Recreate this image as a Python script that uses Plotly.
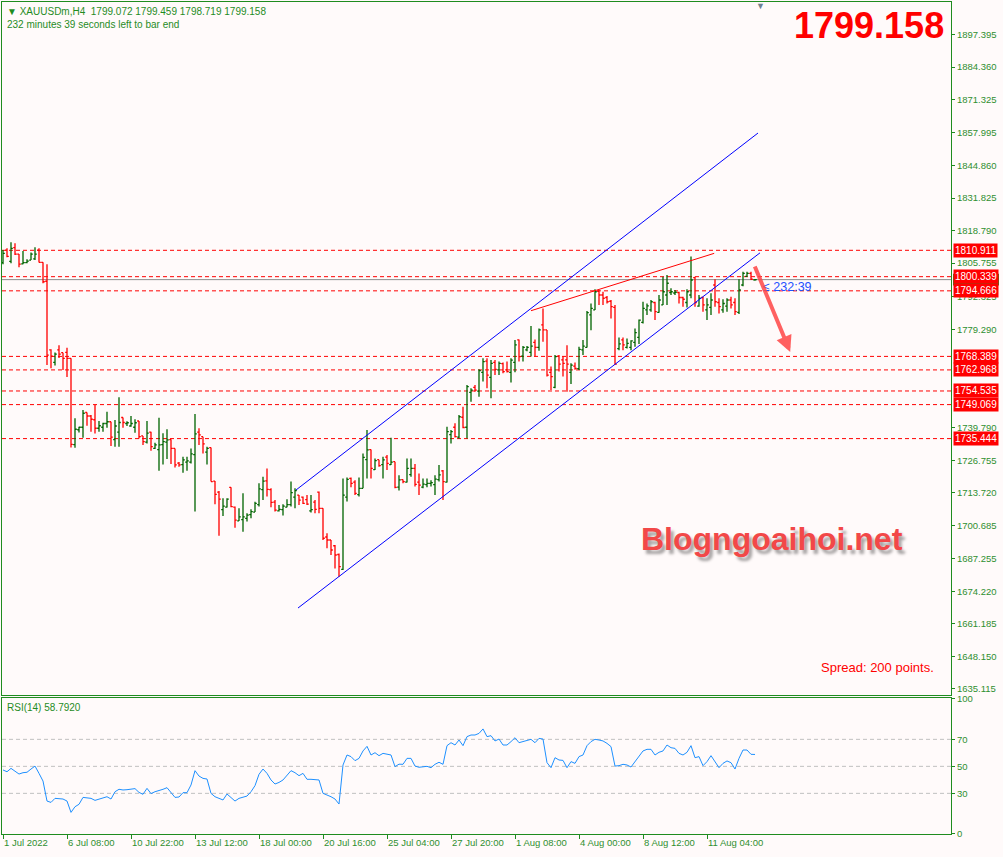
import plotly.graph_objects as go

# ---------------- data ----------------
opens = [1806.0, 1811.0, 1806.5, 1812.0, 1809.4, 1805.5, 1806.0, 1807.0, 1807.5, 1811.0,
         1806.1, 1798.5, 1771.0, 1766.0, 1771.0, 1769.9, 1770.0, 1767.6, 1733.0, 1739.0,
         1740.0, 1745.9, 1744.5, 1743.0, 1739.6, 1740.0, 1741.5, 1742.2, 1735.0, 1738.0,
         1743.9, 1741.5, 1740.5, 1740.0, 1742.5, 1736.5, 1734.0, 1738.0, 1731.5, 1731.0,
         1733.0, 1734.0, 1735.0, 1731.5, 1725.6, 1725.0, 1726.0, 1726.0, 1729.0, 1738.0,
         1736.2, 1730.0, 1731.8, 1718.4, 1714.0, 1707.0, 1708.0, 1715.9, 1708.0, 1702.5,
         1703.0, 1703.5, 1705.0, 1706.0, 1709.0, 1715.0, 1718.5, 1715.0, 1710.0, 1706.5,
         1707.0, 1708.0, 1709.0, 1712.0, 1712.8, 1712.0, 1711.0, 1706.5, 1710.0, 1714.0,
         1707.5, 1696.0, 1694.8, 1692.5, 1689.0, 1683.0, 1712.0, 1719.5, 1718.0, 1713.0,
         1715.5, 1727.0, 1731.0, 1723.0, 1727.0, 1725.0, 1728.0, 1725.0, 1726.2, 1716.0,
         1719.0, 1718.0, 1721.0, 1723.5, 1718.0, 1716.0, 1717.0, 1717.5, 1717.0, 1719.0,
         1722.5, 1718.0, 1737.0, 1740.0, 1736.0, 1744.0, 1740.0, 1754.0, 1756.0, 1754.5,
         1762.0, 1766.5, 1760.0, 1766.0, 1763.0, 1765.5, 1763.0, 1762.0, 1766.0, 1775.0,
         1768.5, 1771.0, 1770.0, 1774.0, 1772.0, 1781.0, 1779.0, 1762.0, 1756.0, 1768.5,
         1767.0, 1767.0, 1762.0, 1764.5, 1763.5, 1771.0, 1772.0, 1785.0, 1787.0, 1794.5,
         1793.0, 1792.0, 1790.5, 1788.0, 1771.5, 1775.0, 1772.0, 1772.0, 1774.0, 1776.0,
         1782.0, 1787.0, 1787.0, 1790.0, 1786.0, 1789.0, 1793.0, 1794.0, 1793.8, 1794.0,
         1792.0, 1790.0, 1793.0, 1800.0, 1788.5, 1792.0, 1787.0, 1788.0, 1797.0, 1790.0,
         1787.0, 1788.5, 1791.0, 1790.0, 1786.0, 1797.0, 1800.5, 1801.7, 1799.072]
highs = [1811.0, 1811.7, 1814.1, 1813.7, 1809.4, 1810.6, 1807.3, 1810.0, 1812.1, 1811.7,
         1806.1, 1805.3, 1771.3, 1770.0, 1772.9, 1769.9, 1771.9, 1767.6, 1743.6, 1740.2,
         1746.9, 1745.9, 1744.9, 1748.9, 1742.5, 1741.8, 1746.2, 1742.2, 1742.9, 1752.0,
         1743.9, 1742.4, 1744.5, 1743.2, 1742.5, 1736.5, 1742.5, 1738.2, 1733.8, 1743.8,
         1737.6, 1739.2, 1735.2, 1731.5, 1726.1, 1728.2, 1728.2, 1731.5, 1745.3, 1739.6,
         1736.2, 1732.2, 1731.9, 1718.4, 1714.4, 1711.5, 1711.5, 1715.9, 1708.2, 1707.5,
         1713.5, 1705.5, 1707.1, 1710.1, 1717.5, 1720.2, 1723.5, 1715.5, 1710.8, 1708.8,
         1709.1, 1711.1, 1718.2, 1715.5, 1712.8, 1712.2, 1712.8, 1712.8, 1710.8, 1714.2,
         1707.5, 1697.5, 1694.8, 1692.8, 1689.4, 1719.5, 1719.9, 1719.9, 1718.8, 1719.9,
         1729.5, 1738.9, 1731.1, 1727.5, 1727.0, 1728.2, 1728.9, 1735.8, 1726.2, 1720.8,
         1719.1, 1727.5, 1727.5, 1725.3, 1721.5, 1719.5, 1719.5, 1718.8, 1720.8, 1724.9,
         1722.9, 1740.2, 1738.9, 1741.6, 1744.9, 1748.2, 1756.9, 1755.6, 1756.9, 1763.2,
         1767.6, 1767.6, 1766.9, 1766.9, 1766.3, 1765.9, 1766.3, 1767.6, 1775.0, 1775.2,
         1772.6, 1772.6, 1780.6, 1775.2, 1779.6, 1787.6, 1779.0, 1764.3, 1768.9, 1768.9,
         1768.3, 1772.9, 1765.6, 1765.9, 1772.3, 1775.0, 1786.6, 1789.6, 1795.3, 1795.0,
         1794.3, 1792.6, 1791.0, 1789.0, 1776.0, 1776.0, 1775.6, 1774.9, 1779.6, 1783.2,
         1790.3, 1789.6, 1791.0, 1790.3, 1793.0, 1800.3, 1801.0, 1795.7, 1795.0, 1794.3,
         1792.3, 1795.3, 1808.4, 1800.3, 1793.0, 1792.3, 1791.7, 1793.7, 1799.3, 1791.7,
         1791.3, 1791.7, 1792.3, 1791.7, 1799.3, 1802.3, 1802.3, 1802.3, 1799.459]
lows = [1805.3, 1808.1, 1805.7, 1809.0, 1804.1, 1805.3, 1805.7, 1807.0, 1807.0, 1806.0,
        1797.7, 1764.9, 1763.6, 1764.7, 1767.7, 1762.9, 1760.1, 1731.9, 1731.8, 1737.9,
        1735.8, 1740.6, 1738.2, 1737.5, 1738.2, 1738.2, 1739.8, 1732.5, 1732.2, 1732.2,
        1739.8, 1740.5, 1740.2, 1737.8, 1735.5, 1732.9, 1733.5, 1730.6, 1731.3, 1722.6,
        1725.1, 1727.3, 1725.3, 1723.9, 1724.2, 1721.8, 1722.6, 1725.5, 1706.2, 1732.9,
        1729.5, 1725.1, 1718.2, 1709.1, 1696.5, 1704.4, 1707.8, 1707.9, 1699.7, 1702.4,
        1698.1, 1702.2, 1703.5, 1706.0, 1708.2, 1710.8, 1712.2, 1707.9, 1706.2, 1706.2,
        1704.6, 1707.9, 1708.2, 1707.5, 1708.8, 1709.2, 1708.8, 1705.8, 1705.5, 1705.5,
        1694.8, 1691.5, 1688.8, 1683.4, 1680.1, 1682.8, 1710.2, 1715.9, 1712.8, 1712.2,
        1715.5, 1719.5, 1719.5, 1722.9, 1724.2, 1719.5, 1722.9, 1724.9, 1715.5, 1714.6,
        1717.5, 1717.8, 1720.2, 1716.2, 1712.8, 1715.5, 1715.9, 1716.2, 1712.8, 1718.2,
        1710.8, 1717.8, 1733.5, 1735.9, 1735.5, 1739.6, 1735.5, 1750.2, 1754.2, 1752.2,
        1758.3, 1755.6, 1751.6, 1760.9, 1760.9, 1761.6, 1761.9, 1757.9, 1762.0, 1766.3,
        1766.3, 1770.5, 1768.3, 1768.3, 1770.7, 1774.3, 1760.3, 1754.9, 1755.6, 1762.3,
        1760.3, 1754.2, 1757.3, 1763.0, 1762.9, 1768.9, 1772.0, 1778.9, 1787.0, 1789.0,
        1789.0, 1789.6, 1783.6, 1765.0, 1770.9, 1770.9, 1771.6, 1770.9, 1772.3, 1773.4,
        1781.6, 1785.0, 1786.3, 1783.0, 1785.9, 1789.0, 1789.0, 1793.0, 1793.0, 1789.6,
        1788.3, 1788.0, 1791.7, 1788.3, 1788.3, 1786.3, 1783.0, 1785.0, 1788.3, 1785.6,
        1785.9, 1786.3, 1787.6, 1785.0, 1785.4, 1796.5, 1800.3, 1799.0, 1798.719]
closes = [1809.7, 1808.5, 1811.7, 1809.4, 1805.4, 1806.0, 1806.6, 1809.4, 1809.4, 1806.1,
          1798.3, 1768.9, 1768.5, 1769.3, 1769.3, 1767.6, 1767.6, 1733.1, 1739.2, 1740.0,
          1745.6, 1744.5, 1743.2, 1739.6, 1740.6, 1741.5, 1742.2, 1736.0, 1740.5, 1741.9,
          1741.9, 1741.8, 1741.5, 1741.8, 1736.2, 1734.2, 1737.6, 1732.2, 1732.9, 1732.9,
          1734.2, 1734.9, 1731.5, 1724.9, 1724.9, 1726.9, 1726.5, 1729.3, 1737.3, 1736.9,
          1733.3, 1731.5, 1718.2, 1713.1, 1711.2, 1708.4, 1711.2, 1708.2, 1702.8, 1704.1,
          1704.1, 1704.8, 1706.2, 1709.5, 1715.3, 1718.4, 1715.1, 1709.9, 1706.8, 1707.1,
          1708.4, 1709.0, 1713.8, 1714.6, 1710.8, 1709.5, 1709.2, 1707.0, 1707.1, 1707.5,
          1695.5, 1694.8, 1690.8, 1688.8, 1684.1, 1712.8, 1719.1, 1717.5, 1713.5, 1715.5,
          1727.9, 1730.9, 1723.5, 1726.6, 1724.6, 1726.9, 1725.5, 1726.0, 1715.9, 1718.9,
          1718.2, 1723.5, 1723.5, 1717.1, 1716.8, 1717.2, 1717.5, 1717.8, 1719.2, 1720.9,
          1718.2, 1738.2, 1738.2, 1736.2, 1744.2, 1739.9, 1756.3, 1754.9, 1754.9, 1762.7,
          1766.3, 1760.9, 1765.6, 1763.2, 1765.6, 1762.3, 1762.3, 1766.9, 1773.0, 1768.3,
          1772.0, 1772.0, 1772.5, 1772.0, 1779.0, 1779.0, 1760.9, 1760.3, 1768.3, 1765.3,
          1765.6, 1765.3, 1764.9, 1763.6, 1771.2, 1772.5, 1785.9, 1787.6, 1794.3, 1793.0,
          1791.7, 1790.3, 1788.3, 1765.3, 1773.4, 1773.0, 1773.6, 1774.6, 1777.9, 1782.9,
          1787.6, 1788.6, 1790.3, 1786.3, 1791.0, 1794.3, 1797.7, 1794.3, 1794.1, 1792.0,
          1791.3, 1794.3, 1799.0, 1790.0, 1791.7, 1789.0, 1789.0, 1791.0, 1790.3, 1788.3,
          1789.6, 1791.0, 1789.0, 1786.3, 1795.0, 1801.7, 1801.7, 1799.3, 1799.158]
rsi = [47.3, 46.0, 48.5, 46.5, 44.3, 45.3, 45.6, 48.0, 50.2, 44.8,
       39.1, 24.3, 23.3, 26.3, 26.0, 25.8, 24.3, 15.9, 20.1, 21.9,
       27.0, 26.8, 26.3, 24.8, 25.8, 26.8, 27.5, 25.8, 31.2, 33.0,
       32.5, 32.7, 33.0, 33.5, 30.7, 29.3, 33.7, 29.8, 31.2, 32.0,
       33.0, 34.2, 30.7, 27.0, 27.3, 30.5, 30.5, 36.2, 46.8, 42.8,
       41.1, 40.6, 30.0, 27.5, 26.3, 25.1, 29.5, 27.0, 24.3, 26.3,
       27.0, 28.0, 31.2, 35.7, 44.1, 48.0, 44.8, 39.9, 36.9, 38.1,
       39.9, 43.1, 46.8, 45.3, 43.1, 44.8, 40.4, 40.4, 40.4, 39.9,
       30.0, 28.8, 27.5, 25.8, 22.1, 51.0, 58.4, 57.2, 54.2, 55.9,
       61.4, 64.8, 58.4, 60.1, 57.9, 59.6, 58.9, 58.4, 49.8, 51.6,
       51.5, 55.9, 55.9, 50.2, 49.3, 49.8, 50.0, 49.0, 51.5, 53.0,
       51.5, 65.3, 67.5, 65.8, 69.5, 65.3, 72.0, 73.2, 73.2, 74.4,
       77.7, 72.0, 72.7, 68.8, 70.2, 65.8, 65.8, 68.3, 71.2, 67.5,
       68.3, 69.5, 70.0, 67.5, 70.7, 70.2, 52.7, 49.0, 56.4, 54.7,
       54.4, 49.0, 53.5, 52.2, 57.2, 58.4, 65.3, 68.3, 70.0, 69.5,
       68.8, 67.0, 64.6, 50.2, 50.5, 51.5, 51.0, 49.5, 53.5, 56.7,
       61.4, 62.6, 62.6, 58.4, 60.4, 61.4, 65.8, 63.8, 63.3, 59.6,
       58.4, 60.4, 65.3, 56.4, 57.2, 50.5, 53.5, 57.9, 53.5, 49.0,
       52.2, 54.0, 52.7, 48.0, 55.9, 62.1, 62.1, 58.9, 58.792]

time_tick_bars = [0, 16, 32, 48, 64, 80, 96, 112, 128, 144, 160, 176]
time_tick_labels = ["1 Jul 2022", "6 Jul 08:00", "10 Jul 22:00", "13 Jul 12:00",
                    "18 Jul 00:00", "20 Jul 16:00", "25 Jul 04:00", "27 Jul 20:00",
                    "1 Aug 08:00", "4 Aug 00:00", "8 Aug 12:00", "11 Aug 04:00"]
price_ticks = [1897.395, 1884.360, 1871.325, 1857.995, 1844.860, 1831.825, 1818.790,
               1805.755, 1792.325, 1779.290, 1739.790, 1726.755,
               1713.720, 1700.685, 1687.255, 1674.220, 1661.185, 1648.150, 1635.115]
rsi_ticks = [100, 70, 50, 30, 0]
rsi_levels = [70, 50, 30]

levels = [1810.911, 1800.339, 1794.666, 1768.389, 1762.968, 1754.535, 1749.069, 1735.444]
bid_price = 1799.158

# drawn objects (bar index, price)
channel_upper = [(73.25, 1714.84), (188.75, 1857.92)]
channel_lower = [(73.75, 1667.54), (189.25, 1809.9)]
red_trend = [(132.0, 1786.7), (177.8, 1809.7)]
arrow_tail = (187.8, 1805.0)
arrow_head = (196.8, 1770.2)

bars = list(range(len(closes)))

# ---------------- figure ----------------
GREEN = "#1f8c1f"
TXT = "#2f8f2f"
BG = "#fffafa"
W, H = 1003, 857
ML, MR, MT, MB = 2, 52, 2, 23
PW, PH = W - ML - MR, H - MT - MB


def px_x(px):
    return (px - ML) / PW


def px_y(py):
    return (H - MB - py) / PH


fig = go.Figure()

fig.add_trace(go.Ohlc(
    x=bars, open=opens, high=highs, low=lows, close=closes,
    increasing=dict(line=dict(color="#006400", width=1.3)),
    decreasing=dict(line=dict(color="#ff0000", width=1.3)),
    tickwidth=0.45, xaxis="x", yaxis="y", hoverinfo="skip", showlegend=False))

fig.add_trace(go.Scatter(
    x=bars, y=rsi, mode="lines", line=dict(color="#1e90ff", width=1),
    xaxis="x2", yaxis="y2", hoverinfo="skip", showlegend=False))

shapes = []
for lv in levels:
    shapes.append(dict(type="line", xref="x domain", yref="y", x0=0, x1=1, y0=lv, y1=lv,
                       line=dict(color="#ff0000", width=1, dash="4px,3px"), layer="below"))
shapes.append(dict(type="line", xref="x domain", yref="y", x0=0, x1=1, y0=bid_price, y1=bid_price,
                   line=dict(color="#8c8c8c", width=1), layer="below"))
# current price marker on the axis (mostly hidden under the red tags)
shapes.append(dict(type="rect", xref="paper", yref="y", x0=1 + 2 / PW, x1=1 + 48 / PW,
                   y0=bid_price - 2.4, y1=bid_price + 2.4, fillcolor="#1f8c1f",
                   line=dict(width=0), layer="above"))
for lv in rsi_levels:
    shapes.append(dict(type="line", xref="x2 domain", yref="y2", x0=0, x1=1, y0=lv, y1=lv,
                       line=dict(color="#c0c0c0", width=1, dash="4px,3px"), layer="below"))
for (p0, p1), col in [((channel_upper[0], channel_upper[1]), "#0000ff"),
                      ((channel_lower[0], channel_lower[1]), "#0000ff"),
                      ((red_trend[0], red_trend[1]), "#ff0000")]:
    shapes.append(dict(type="line", xref="x", yref="y", x0=p0[0], y0=p0[1], x1=p1[0], y1=p1[1],
                       line=dict(color=col, width=1)))

ann = []
for lv in levels:
    ann.append(dict(xref="paper", yref="y", x=1, y=lv, xanchor="left", yanchor="middle",
                    xshift=2, text=f"{lv:.3f}", showarrow=False, bgcolor="#ff0000",
                    font=dict(color="white", size=10, family="Liberation Sans"), borderpad=1))

ann.append(dict(xref="paper", yref="paper", x=px_x(5), y=px_y(11), xanchor="left", yanchor="middle",
                text="▼ XAUUSDm,H4\u00a0\u00a01799.072 1799.459 1798.719 1799.158", showarrow=False,
                font=dict(color=GREEN, size=10, family="Liberation Sans")))
ann.append(dict(xref="paper", yref="paper", x=px_x(5), y=px_y(24), xanchor="left", yanchor="middle",
                text="232 minutes 39 seconds left to bar end", showarrow=False,
                font=dict(color=GREEN, size=10, family="Liberation Sans")))
ann.append(dict(xref="paper", yref="paper", x=px_x(5), y=px_y(707), xanchor="left", yanchor="middle",
                text="RSI(14) 58.7920", showarrow=False,
                font=dict(color=GREEN, size=10, family="Liberation Sans")))
ann.append(dict(xref="paper", yref="paper", x=px_x(946), y=px_y(25.5), xanchor="right", yanchor="middle",
                text="<b>1799.158</b>", showarrow=False,
                font=dict(color="#ff0000", size=36, family="Liberation Sans")))
ann.append(dict(xref="paper", yref="paper", x=px_x(760.5), y=px_y(5), xanchor="center", yanchor="middle",
                text="▼", showarrow=False, font=dict(color="#708090", size=9)))
ann.append(dict(xref="paper", yref="paper", x=px_x(772), y=px_y(539), xanchor="center", yanchor="middle",
                text="<b>Blogngoaihoi.net</b>", showarrow=False,
                font=dict(color="#f24848", size=32, family="Liberation Sans",
                          shadow="3px 4px 3px rgba(0,0,0,0.35)")))
ann.append(dict(xref="paper", yref="paper", x=px_x(819), y=px_y(667), xanchor="left", yanchor="middle",
                text="Spread: 200 points.", showarrow=False,
                font=dict(color="#ff0000", size=13, family="Liberation Sans")))
ann.append(dict(xref="paper", yref="paper", x=px_x(761), y=px_y(287), xanchor="left", yanchor="middle",
                text="≤ 232:39", showarrow=False,
                font=dict(color="#1e50ff", size=12.5, family="Liberation Sans")))
ann.append(dict(xref="x", yref="y", x=arrow_head[0], y=arrow_head[1],
                axref="x", ayref="y", ax=arrow_tail[0], ay=arrow_tail[1],
                showarrow=True, arrowhead=2, arrowsize=0.8, arrowwidth=4,
                arrowcolor="rgba(255,70,70,0.85)", text=""))

axis_common = dict(showgrid=False, zeroline=False, showline=True, mirror=True,
                   linecolor=GREEN, linewidth=1, automargin=False)

fig.update_layout(
    width=W, height=H, margin=dict(l=ML, r=MR, t=MT, b=MB, autoexpand=False),
    paper_bgcolor=BG, plot_bgcolor=BG, showlegend=False,
    shapes=shapes, annotations=ann,
    xaxis=dict(domain=[0, 1], range=[-0.25, 237.0], anchor="y", showticklabels=False,
               ticks="", rangeslider=dict(visible=False), **axis_common),
    yaxis=dict(domain=[px_y(695), 1], range=[1632.68, 1910.43], anchor="x", side="right",
               tickvals=price_ticks, ticktext=[f"{v:.3f}" for v in price_ticks],
               ticks="outside", ticklen=3, tickcolor=GREEN,
               tickfont=dict(color=TXT, size=9.5, family="Liberation Sans"), **axis_common),
    xaxis2=dict(domain=[0, 1], range=[-0.25, 237.0], anchor="y2",
                tickvals=time_tick_bars, ticktext=time_tick_labels,
                ticks="outside", ticklen=4, tickcolor=GREEN, ticklabelposition="outside right",
                tickfont=dict(color=TXT, size=9.5, family="Liberation Sans"), **axis_common),
    yaxis2=dict(domain=[0, px_y(698)], range=[-0.1, 100.6], anchor="x2", side="right",
                tickvals=rsi_ticks, ticktext=[str(v) for v in rsi_ticks],
                ticks="outside", ticklen=3, tickcolor=GREEN,
                tickfont=dict(color=TXT, size=9.5, family="Liberation Sans"), **axis_common),
)

fig.write_html("out.html", config={"displayModeBar": False},
               post_script="document.body.style.margin='0';document.body.style.padding='0';"
                           "document.documentElement.style.overflow='hidden';")
